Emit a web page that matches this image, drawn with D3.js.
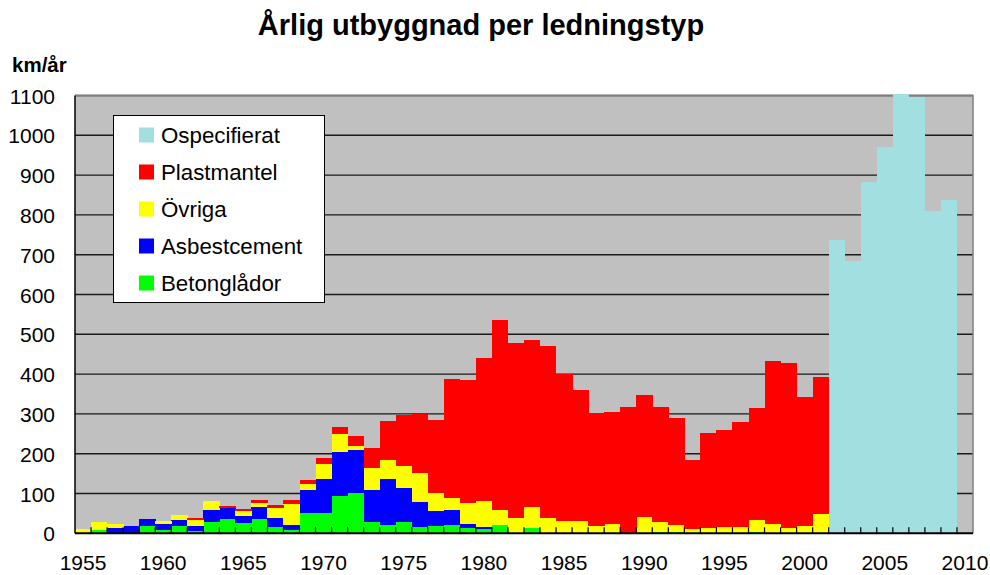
<!DOCTYPE html>
<html><head><meta charset="utf-8">
<script src="https://cdn.jsdelivr.net/npm/d3@7/dist/d3.min.js"></script>
<style>body{margin:0;background:#fff}svg{display:block;font-family:Arial,"Liberation Sans",sans-serif}</style>
</head><body><svg id="c" width="990" height="575"></svg>
<script>
const years = d3.range(1955, 2011);
const betonglador = [0,8,0,0,18,8,18,5,28,36,26,36,16,8,51,51,94,101,28,21,28,16,18,21,13,11,21,0,13,0,0,0,0,0,0,0,3,3,0,0,0,0,3,0,0,0,0,0,0,0,0,0,0,0,0,0];
const asbestcement = [0,0,13,18,18,15,15,13,31,28,17,30,22,13,58,85,111,108,81,115,86,63,38,38,10,5,0,0,0,0,0,0,0,0,0,0,0,0,0,0,0,0,0,0,0,0,0,0,0,0,0,0,0,0,0,0];
const ovriga = [10,20,10,0,0,8,13,15,22,0,13,10,26,53,15,38,45,10,55,48,55,72,45,30,53,65,38,38,53,38,31,31,18,23,0,41,25,18,11,13,16,16,30,23,13,18,48,0,0,0,0,0,0,0,0,0];
const plastmantel = [0,0,0,0,0,0,0,5,0,5,5,8,7,10,10,15,17,25,50,98,128,149,184,299,309,360,477,440,420,433,370,329,284,282,318,307,290,269,173,239,244,264,282,410,415,325,345,0,0,0,0,0,0,0,0,0];
const ospecifierat = [0,0,0,0,0,0,0,0,0,0,0,0,0,0,0,0,0,0,0,0,0,0,0,0,0,0,0,0,0,0,0,0,0,0,0,0,0,0,0,0,0,0,0,0,0,0,0,737,684,883,971,1105,1095,810,838,0];
const yTicks = [0,100,200,300,400,500,600,700,800,900,1000,1100];
const xLabels = [1955,1960,1965,1970,1975,1980,1985,1990,1995,2000,2005,2010];
const seriesNames = ["Betonglådor","Asbestcement","Övriga","Plastmantel","Ospecifierat"];
const seriesColors = ["#00FF00","#0000FF","#FFFF00","#FF0000","#A1DFE0"];
const seriesValues = [betonglador, asbestcement, ovriga, plastmantel, ospecifierat];

const svg = d3.select("#c");
const L = 75, R = 973, T = 95.5, B = 533.3;
const x = d3.scaleBand().domain(years).range([L, R]).padding(0);
const y = d3.scaleLinear().domain([0, 1100]).range([B, T]);

const table = years.map((yr, i) => {
  const o = {year: yr};
  seriesNames.forEach((n, k) => o[n] = seriesValues[k][i]);
  return o;
});
const stack = d3.stack().keys(seriesNames)(table);

svg.append("rect").attr("x", L).attr("y", T).attr("width", R - L).attr("height", B - T).attr("fill", "#C0C0C0");
svg.append("g").selectAll("line").data(yTicks.slice(1)).join("line")
  .attr("x1", L).attr("x2", R).attr("y1", d => y(d)).attr("y2", d => y(d))
  .attr("stroke", "#1a1a1a").attr("stroke-width", 1.4);
svg.append("path").attr("d", `M${L},${T}H${R}V${B}`).attr("fill", "none").attr("stroke", "#808080").attr("stroke-width", 1.5);
svg.append("g").selectAll("g").data(stack).join("g")
  .attr("fill", (d, k) => seriesColors[k])
  .selectAll("rect").data(d => d).join("rect")
  .attr("x", d => x(d.data.year)).attr("width", x.bandwidth() + 0.4)
  .attr("y", d => y(d[1])).attr("height", d => Math.max(0, y(d[0]) - y(d[1])))
  .attr("shape-rendering", "crispEdges");
const xAxis = d3.axisBottom(x).tickSize(0).tickFormat(d => xLabels.includes(d) ? d : "");
const gx = svg.append("g").attr("transform", `translate(0,${B})`).call(xAxis);
gx.select(".domain").remove();
gx.selectAll("text").attr("font-size", 21).attr("fill", "#000").attr("dy", 0).attr("y", 37);
svg.append("g").selectAll("line").data(years.slice(1)).join("line")
  .attr("x1", d => x(d)).attr("x2", d => x(d)).attr("y1", B).attr("y2", B - 6)
  .attr("stroke", "#000").attr("stroke-width", 1.2);
svg.append("line").attr("x1", L).attr("x2", R).attr("y1", B).attr("y2", B).attr("stroke", "#000").attr("stroke-width", 2);
const yAxis = d3.axisLeft(y).tickValues(yTicks).tickSize(0).tickPadding(20).tickFormat(d3.format("d"));
const gy = svg.append("g").attr("transform", `translate(${L},0)`).call(yAxis);
gy.select(".domain").remove();
gy.selectAll("text").attr("font-size", 21).attr("fill", "#000").attr("dy", "0.36em");
svg.append("line").attr("x1", L).attr("x2", L).attr("y1", T).attr("y2", B).attr("stroke", "#000").attr("stroke-width", 1.5);

svg.append("text").attr("x", 481).attr("y", 35).attr("text-anchor", "middle")
  .attr("font-size", 29).attr("font-weight", "bold").text("Årlig utbyggnad per ledningstyp");
svg.append("text").attr("x", 12).attr("y", 72).attr("font-size", 20.5).attr("font-weight", "bold").text("km/år");

const lg = svg.append("g");
lg.append("rect").attr("x", 113.5).attr("y", 115.5).attr("width", 211).attr("height", 187)
  .attr("fill", "#fff").attr("stroke", "#000").attr("stroke-width", 1);
const legendOrder = [4,3,2,1,0];
const ly = d3.scalePoint().domain(legendOrder).range([135, 283]);
legendOrder.forEach(k => {
  lg.append("rect").attr("x", 139).attr("y", ly(k) - 7.5).attr("width", 15).attr("height", 15).attr("fill", seriesColors[k]);
  lg.append("text").attr("x", 161).attr("y", ly(k)).attr("dy", "0.36em").attr("font-size", 22.3).text(seriesNames[k]);
});
</script></body></html>
